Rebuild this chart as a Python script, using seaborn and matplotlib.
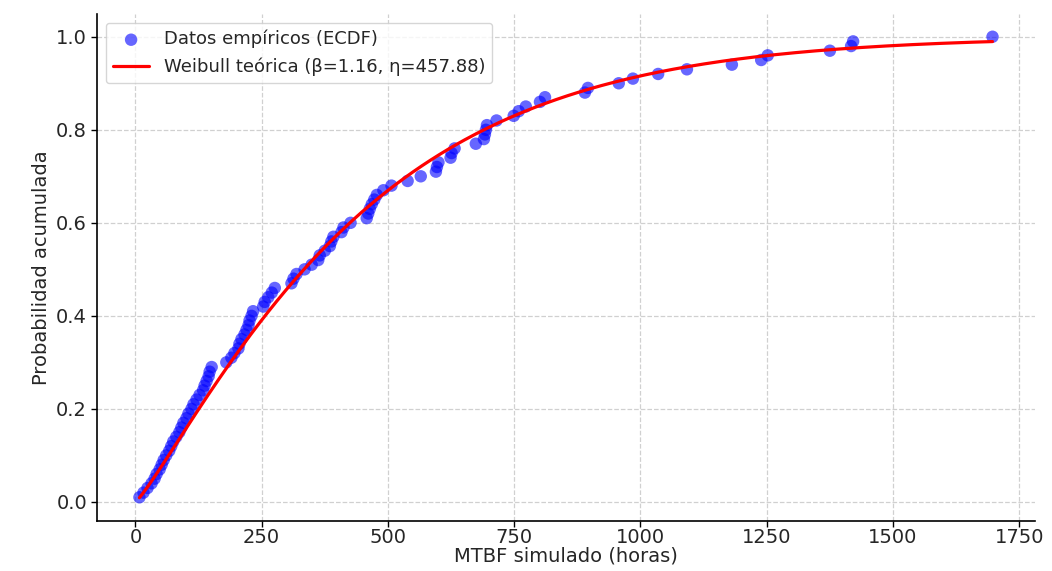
import numpy as np
import pandas as pd
import matplotlib
matplotlib.use("Agg")
import matplotlib.pyplot as plt
import seaborn as sns

# Simulated MTBF values (hours), sorted
mtbf_hours = [
    8, 16, 24, 32, 38, 42, 48, 52, 56, 61,
    67, 71, 75, 81, 87, 91, 95, 101, 105, 111,
    115, 121, 127, 134, 137, 141, 145, 147, 151, 180,
    190, 196, 204, 206, 210, 216, 220, 224, 226, 230,
    233, 253, 256, 263, 270, 276, 309, 313, 319, 335,
    349, 362, 365, 375, 385, 388, 392, 408, 412, 426,
    458, 461, 464, 468, 473, 478, 491, 507, 539, 565,
    595, 597, 600, 624, 626, 632, 674, 690, 692, 694,
    696, 715, 749, 759, 773, 801, 811, 890, 896, 957,
    985, 1035, 1092, 1181, 1239, 1252, 1375, 1417, 1421, 1697,
]

# Fitted Weibull parameters
beta = 1.16
eta = 457.88

x_sorted = np.sort(np.array(mtbf_hours, dtype=float))
ecdf = np.arange(1, len(x_sorted) + 1) / len(x_sorted)
df_emp = pd.DataFrame({"x": x_sorted, "F": ecdf})

x_fit = np.linspace(x_sorted.min(), x_sorted.max(), 300)
F_fit = 1 - np.exp(-(x_fit / eta) ** beta)
df_fit = pd.DataFrame({"x": x_fit, "F": F_fit})

sns.set_style("whitegrid", {
    "grid.linestyle": "--",
    "grid.color": "#d0d0d0",
    "axes.edgecolor": "black",
    "xtick.bottom": True,
    "ytick.left": True,
})
plt.rcParams["font.family"] = ["DejaVu Sans"]

fig = plt.figure(figsize=(10.52, 5.71), dpi=100)
ax = fig.add_axes([0.092, 0.088, 0.892, 0.888])

sns.scatterplot(data=df_emp, x="x", y="F", ax=ax, color="blue", alpha=0.6,
                s=80, edgecolor="none", label="Datos empíricos (ECDF)")
sns.lineplot(data=df_fit, x="x", y="F", ax=ax, color="red", linewidth=2.3,
             label=f"Weibull teórica (β={beta}, η={eta})")

ax.set_xticks([0, 250, 500, 750, 1000, 1250, 1500, 1750])
ax.set_yticks([0.0, 0.2, 0.4, 0.6, 0.8, 1.0])
ax.set_xlabel("MTBF simulado (horas)", fontsize=14, labelpad=0)
ax.set_ylabel("Probabilidad acumulada", fontsize=14, labelpad=4)
ax.tick_params(axis="x", labelsize=14, length=4, width=1, color="black", pad=1)
ax.tick_params(axis="y", labelsize=14, length=4, width=1, color="black", pad=3)
ax.grid(True, linestyle="--", color="#d0d0d0", linewidth=0.9)
sns.despine(ax=ax)
ax.spines["left"].set_linewidth(1.2)
ax.spines["bottom"].set_linewidth(1.2)

leg = ax.legend(loc="upper left", fontsize=13, frameon=True)
leg.get_frame().set_edgecolor("#cccccc")

fig.savefig("out.png", dpi=100)
